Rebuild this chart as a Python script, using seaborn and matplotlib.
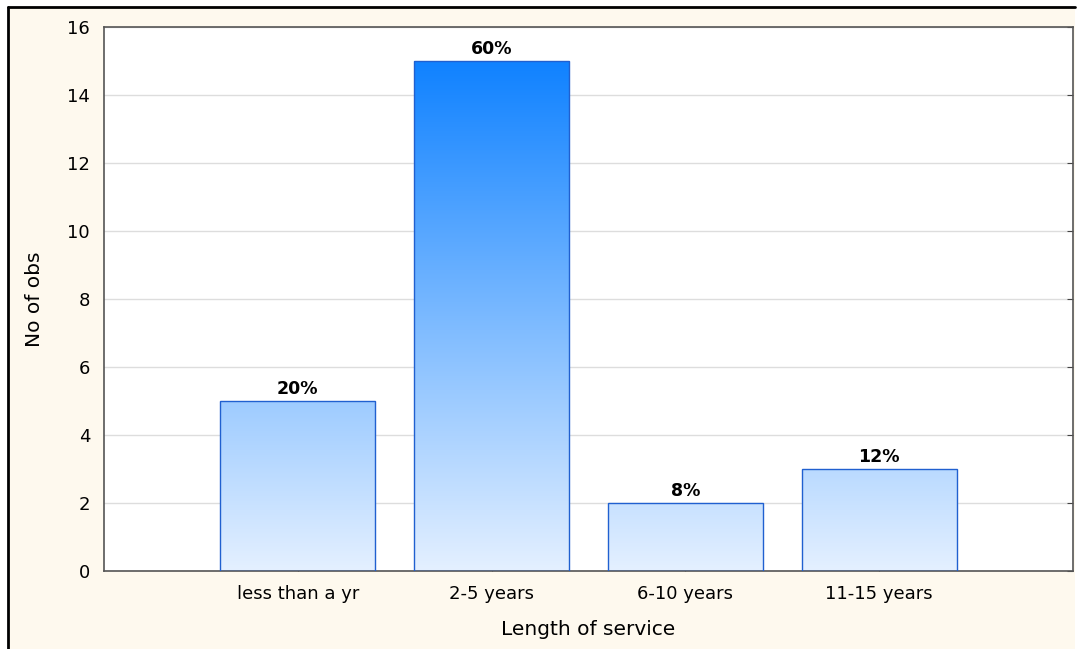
import numpy as np
import pandas as pd
import matplotlib
matplotlib.use("Agg")
import matplotlib.pyplot as plt
from matplotlib.colors import LinearSegmentedColormap
from matplotlib.patches import Rectangle
import seaborn as sns

categories = ["less than a yr", "2-5 years", "6-10 years", "11-15 years"]
counts = [5, 15, 2, 3]
percent_labels = ["20%", "60%", "8%", "12%"]

sns.set_style("white")
plt.rcParams["font.family"] = ["DejaVu Sans"]

fig = plt.figure(figsize=(10.78, 6.49), dpi=100)
fig.patch.set_facecolor("white")

# cream panel with a dark frame on the left and top
panel = Rectangle((8 / 1078, 0), (1075 - 8) / 1078, 1 - 7 / 649,
                  transform=fig.transFigure, facecolor="#FEF9EE",
                  edgecolor="none", zorder=-2)
fig.patches.append(panel)
fig.add_artist(plt.Line2D([8 / 1078, 8 / 1078], [0, 1 - 7 / 649],
                          transform=fig.transFigure, color="black", lw=2, zorder=-1))
fig.add_artist(plt.Line2D([8 / 1078, 1075 / 1078], [1 - 7 / 649, 1 - 7 / 649],
                          transform=fig.transFigure, color="black", lw=2, zorder=-1))

ax = fig.add_axes([104 / 1078, 1 - 571 / 649, (1073 - 104) / 1078, (571 - 27) / 649])
ax.set_facecolor("white")

df = pd.DataFrame({"service": categories, "obs": counts})
sns.barplot(data=df, x="service", y="obs", order=categories, width=0.8,
            color="#9CC9FF", edgecolor="#2060D0", linewidth=1.0, ax=ax, zorder=3)

# vertical gradient fill clipped to each bar
cmap = LinearSegmentedColormap.from_list("blues", ["#E4F0FF", "#1082FF"])
grad = np.linspace(0, 1, 256).reshape(-1, 1)
for patch in ax.patches:
    x0 = patch.get_x()
    w = patch.get_width()
    patch.set_facecolor("none")
    im = ax.imshow(grad, extent=[x0, x0 + w, 0, 15], origin="lower",
                   aspect="auto", cmap=cmap, vmin=0, vmax=1, zorder=2.5)
    im.set_clip_path(patch)
ax.set_xlim(-1, 4)
ax.set_ylim(0, 16)
ax.set_yticks(range(0, 17, 2))

for i, (v, lab) in enumerate(zip(counts, percent_labels)):
    ax.text(i, v + 0.1, lab, ha="center", va="bottom", fontsize=12.5,
            fontweight="bold", color="black", zorder=5)

ax.yaxis.grid(True, color="#DDDDDD", lw=1, zorder=0)
ax.set_axisbelow(True)
for s in ax.spines.values():
    s.set_visible(True)
    s.set_color("#555555")
    s.set_linewidth(1.2)

ax.tick_params(axis="both", direction="in", length=4, color="#444444",
               labelsize=13, labelcolor="black")
ax.tick_params(axis="y", right=True, pad=10)
ax.tick_params(axis="x", bottom=True, pad=10)

ax.set_xlabel("Length of service", fontsize=14.5, labelpad=12, color="black")
ax.set_ylabel("No of obs", fontsize=14.5, labelpad=17, color="black")

fig.savefig("out.png", dpi=100, facecolor=fig.get_facecolor())
